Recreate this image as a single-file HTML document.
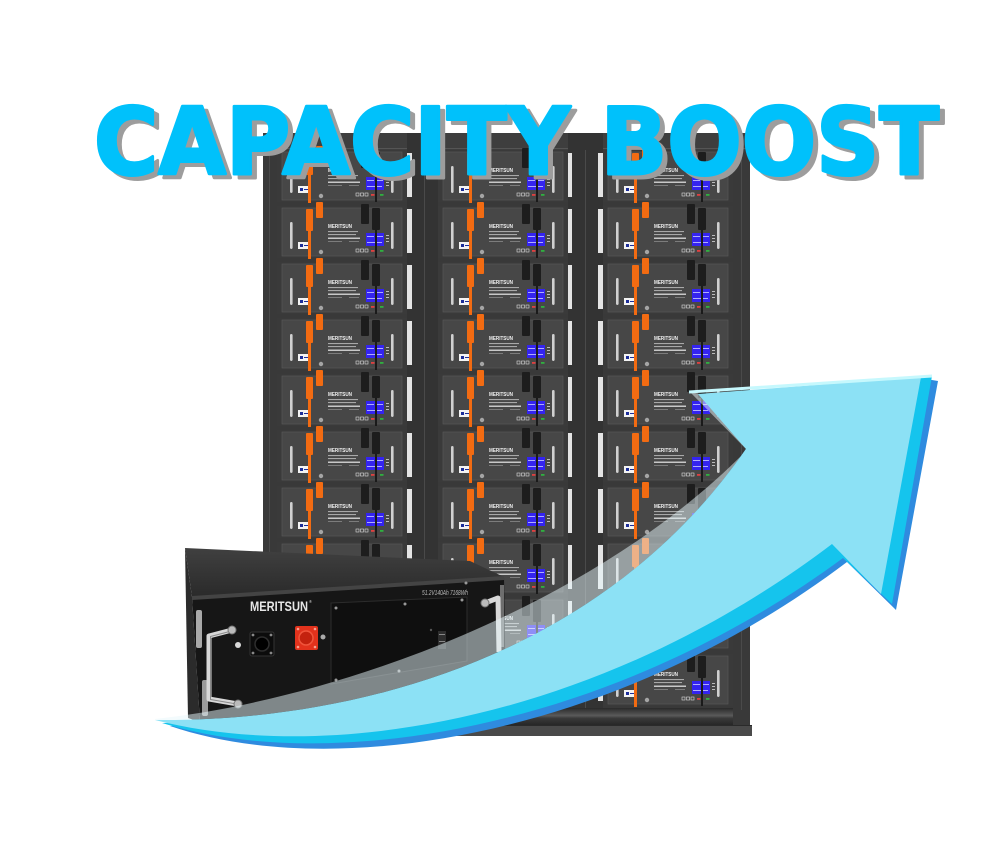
<!DOCTYPE html>
<html>
<head>
<meta charset="utf-8">
<style>
html,body{margin:0;padding:0;background:#fff;}
body{width:1000px;height:857px;overflow:hidden;}
svg{display:block;}
</style>
</head>
<body>
<svg width="1000" height="857" viewBox="0 0 1000 857" xmlns="http://www.w3.org/2000/svg">
<defs>
  <linearGradient id="tf" x1="0" y1="0" x2="0" y2="1">
    <stop offset="0" stop-color="#404040"/>
    <stop offset="1" stop-color="#2a2a2a"/>
  </linearGradient>
  <linearGradient id="bar" x1="0" y1="0" x2="0" y2="1">
    <stop offset="0" stop-color="#2a2a2a"/>
    <stop offset="0.45" stop-color="#5a5a5a"/>
    <stop offset="0.6" stop-color="#3a3a3a"/>
    <stop offset="1" stop-color="#262626"/>
  </linearGradient>
  <g id="m">
    <rect width="130" height="52" fill="#3a3a3a"/>
    <rect x="5" y="2" width="120" height="48" fill="#474747" stroke="#5a5a5a" stroke-width="0.6"/>
    <rect x="13" y="16" width="2.6" height="27" rx="1.2" fill="#d0d0d0"/>
    <rect x="114" y="16" width="2.6" height="27" rx="1.2" fill="#d0d0d0"/>
    <rect x="21" y="36" width="12" height="7" fill="#f3f3f3"/>
    <rect x="23" y="38" width="3" height="3" fill="#1c2d99"/>
    <rect x="27" y="39" width="4" height="1" fill="#1c2d99"/>
    <rect x="51" y="25" width="30" height="1.1" fill="#a8a8a8"/>
    <rect x="51" y="28" width="28" height="1.1" fill="#a8a8a8"/>
    <rect x="51" y="31.5" width="32" height="1.5" fill="#c8c8c8"/>
    <rect x="51" y="35" width="14" height="0.8" fill="#8a8a8a"/>
    <rect x="72" y="35" width="10" height="0.8" fill="#8a8a8a"/>
    <rect x="89" y="27" width="9" height="13" fill="#3424f0"/>
    <rect x="99" y="27" width="8" height="13" fill="#3424f0"/>
    <rect x="90" y="30" width="7" height="0.8" fill="#cfd0ff"/>
    <rect x="100" y="30" width="6" height="0.8" fill="#cfd0ff"/>
    <rect x="90" y="36" width="15" height="0.8" fill="#cfd0ff"/>
    <rect x="109" y="29" width="3" height="1" fill="#bbb"/>
    <rect x="109" y="32" width="3" height="1" fill="#bbb"/>
    <rect x="109" y="35" width="3" height="1" fill="#bbb"/>
    <circle cx="44" cy="46" r="2.2" fill="#a5a5a5"/>
    <rect x="79" y="43" width="3" height="3" fill="none" stroke="#ddd" stroke-width="0.6"/>
    <rect x="83.5" y="43" width="3" height="3" fill="none" stroke="#ddd" stroke-width="0.6"/>
    <rect x="88" y="43" width="3" height="3" fill="none" stroke="#ddd" stroke-width="0.6"/>
    <rect x="94" y="44" width="3.5" height="1.8" fill="#e04040"/>
    <rect x="103" y="44" width="3.5" height="1.8" fill="#30b040"/>
    <rect x="84" y="-2" width="8" height="20" rx="1" fill="#1d1d1d"/>
    <rect x="95" y="2" width="8" height="22" rx="1" fill="#1d1d1d"/>
    <rect x="98" y="24" width="2" height="28" fill="#1a1a1a"/>
    <rect x="29" y="3" width="7" height="22" rx="1" fill="#f26b12"/>
    <rect x="31" y="25" width="3" height="28" fill="#f26b12"/>
    <rect x="39" y="-4" width="7" height="16" rx="1" fill="#f26b12"/>
  </g>
</defs>

<rect width="1000" height="857" fill="#ffffff"/>

<!-- RACK -->
<rect x="263" y="133" width="487" height="594" fill="#393939"/>
<rect x="263" y="133" width="487" height="17" fill="#3e3e3e"/>
<rect x="263" y="148" width="487" height="1" fill="#555"/>
<rect x="407" y="133" width="31" height="592" fill="#333"/>
<rect x="568" y="133" width="35" height="592" fill="#333"/>
<rect x="424" y="150" width="1" height="560" fill="#4a4a4a"/>
<rect x="585" y="150" width="1" height="560" fill="#4a4a4a"/>
<rect x="741" y="150" width="1" height="560" fill="#4a4a4a"/>
<rect x="269" y="150" width="1" height="560" fill="#4a4a4a"/>
<rect x="277" y="708" width="456" height="17" fill="url(#bar)"/>
<rect x="261" y="725" width="491" height="11" fill="#4a4a4a"/>
<rect x="261" y="725" width="491" height="1" fill="#2a2a2a"/>

<!-- white strips -->
<g fill="#e4e4e4">
  <rect x="407" y="153" width="5" height="44"/><rect x="567" y="153" width="5" height="44"/><rect x="598" y="153" width="5" height="44"/>
  <rect x="407" y="209" width="5" height="44"/><rect x="567" y="209" width="5" height="44"/><rect x="598" y="209" width="5" height="44"/>
  <rect x="407" y="265" width="5" height="44"/><rect x="567" y="265" width="5" height="44"/><rect x="598" y="265" width="5" height="44"/>
  <rect x="407" y="321" width="5" height="44"/><rect x="567" y="321" width="5" height="44"/><rect x="598" y="321" width="5" height="44"/>
  <rect x="407" y="377" width="5" height="44"/><rect x="567" y="377" width="5" height="44"/><rect x="598" y="377" width="5" height="44"/>
  <rect x="407" y="433" width="5" height="44"/><rect x="567" y="433" width="5" height="44"/><rect x="598" y="433" width="5" height="44"/>
  <rect x="407" y="489" width="5" height="44"/><rect x="567" y="489" width="5" height="44"/><rect x="598" y="489" width="5" height="44"/>
  <rect x="407" y="545" width="5" height="44"/><rect x="567" y="545" width="5" height="44"/><rect x="598" y="545" width="5" height="44"/>
  <rect x="407" y="601" width="5" height="44"/><rect x="567" y="601" width="5" height="44"/><rect x="598" y="601" width="5" height="44"/>
  <rect x="407" y="657" width="5" height="44"/><rect x="567" y="657" width="5" height="44"/><rect x="598" y="657" width="5" height="44"/>
</g>

<!-- modules -->
<use href="#m" x="277" y="150"/><use href="#m" x="438" y="150"/><use href="#m" x="603" y="150"/>
<use href="#m" x="277" y="206"/><use href="#m" x="438" y="206"/><use href="#m" x="603" y="206"/>
<use href="#m" x="277" y="262"/><use href="#m" x="438" y="262"/><use href="#m" x="603" y="262"/>
<use href="#m" x="277" y="318"/><use href="#m" x="438" y="318"/><use href="#m" x="603" y="318"/>
<use href="#m" x="277" y="374"/><use href="#m" x="438" y="374"/><use href="#m" x="603" y="374"/>
<use href="#m" x="277" y="430"/><use href="#m" x="438" y="430"/><use href="#m" x="603" y="430"/>
<use href="#m" x="277" y="486"/><use href="#m" x="438" y="486"/><use href="#m" x="603" y="486"/>
<use href="#m" x="277" y="542"/><use href="#m" x="438" y="542"/><use href="#m" x="603" y="542"/>
<use href="#m" x="277" y="598"/><use href="#m" x="438" y="598"/><use href="#m" x="603" y="598"/>
<use href="#m" x="277" y="654"/><use href="#m" x="438" y="654"/><use href="#m" x="603" y="654"/>

<g font-family="'Liberation Sans', sans-serif" font-weight="bold" font-size="5.5" fill="#f0f0f0">
  <text x="328" y="172" textLength="24" lengthAdjust="spacingAndGlyphs">MERITSUN</text>
  <text x="489" y="172" textLength="24" lengthAdjust="spacingAndGlyphs">MERITSUN</text>
  <text x="654" y="172" textLength="24" lengthAdjust="spacingAndGlyphs">MERITSUN</text>
  <text x="328" y="228" textLength="24" lengthAdjust="spacingAndGlyphs">MERITSUN</text>
  <text x="489" y="228" textLength="24" lengthAdjust="spacingAndGlyphs">MERITSUN</text>
  <text x="654" y="228" textLength="24" lengthAdjust="spacingAndGlyphs">MERITSUN</text>
  <text x="328" y="284" textLength="24" lengthAdjust="spacingAndGlyphs">MERITSUN</text>
  <text x="489" y="284" textLength="24" lengthAdjust="spacingAndGlyphs">MERITSUN</text>
  <text x="654" y="284" textLength="24" lengthAdjust="spacingAndGlyphs">MERITSUN</text>
  <text x="328" y="340" textLength="24" lengthAdjust="spacingAndGlyphs">MERITSUN</text>
  <text x="489" y="340" textLength="24" lengthAdjust="spacingAndGlyphs">MERITSUN</text>
  <text x="654" y="340" textLength="24" lengthAdjust="spacingAndGlyphs">MERITSUN</text>
  <text x="328" y="396" textLength="24" lengthAdjust="spacingAndGlyphs">MERITSUN</text>
  <text x="489" y="396" textLength="24" lengthAdjust="spacingAndGlyphs">MERITSUN</text>
  <text x="654" y="396" textLength="24" lengthAdjust="spacingAndGlyphs">MERITSUN</text>
  <text x="328" y="452" textLength="24" lengthAdjust="spacingAndGlyphs">MERITSUN</text>
  <text x="489" y="452" textLength="24" lengthAdjust="spacingAndGlyphs">MERITSUN</text>
  <text x="654" y="452" textLength="24" lengthAdjust="spacingAndGlyphs">MERITSUN</text>
  <text x="328" y="508" textLength="24" lengthAdjust="spacingAndGlyphs">MERITSUN</text>
  <text x="489" y="508" textLength="24" lengthAdjust="spacingAndGlyphs">MERITSUN</text>
  <text x="654" y="508" textLength="24" lengthAdjust="spacingAndGlyphs">MERITSUN</text>
  <text x="328" y="564" textLength="24" lengthAdjust="spacingAndGlyphs">MERITSUN</text>
  <text x="489" y="564" textLength="24" lengthAdjust="spacingAndGlyphs">MERITSUN</text>
  <text x="654" y="564" textLength="24" lengthAdjust="spacingAndGlyphs">MERITSUN</text>
  <text x="328" y="620" textLength="24" lengthAdjust="spacingAndGlyphs">MERITSUN</text>
  <text x="489" y="620" textLength="24" lengthAdjust="spacingAndGlyphs">MERITSUN</text>
  <text x="654" y="620" textLength="24" lengthAdjust="spacingAndGlyphs">MERITSUN</text>
  <text x="328" y="676" textLength="24" lengthAdjust="spacingAndGlyphs">MERITSUN</text>
  <text x="489" y="676" textLength="24" lengthAdjust="spacingAndGlyphs">MERITSUN</text>
  <text x="654" y="676" textLength="24" lengthAdjust="spacingAndGlyphs">MERITSUN</text>
</g>

<!-- BOX UNIT -->
<polygon points="185,548 470,561 504,577 192,597" fill="url(#tf)"/>
<polygon points="185,548 192,597 200,722 188,718" fill="#2b2b2b"/>
<polygon points="192,597 504,577 506,706 200,722" fill="#161616"/>
<polygon points="192,596 504,576 504,580 192,600" fill="#444"/>
<polygon points="331,603 467,597 467,661 331,684" fill="#0f0f0f" stroke="#2c2c2c" stroke-width="1"/>
<rect x="196" y="610" width="6" height="38" rx="2" fill="#a9a9a9"/>
<rect x="202" y="680" width="6" height="36" rx="2" fill="#9a9a9a"/>
<rect x="500" y="585" width="4" height="62" fill="#6e6e6e"/>
<text x="250" y="611" font-family="'Liberation Sans', sans-serif" font-weight="bold" font-size="14" fill="#e6e6e6" textLength="58" lengthAdjust="spacingAndGlyphs">MERITSUN</text>
<text x="309" y="603" font-family="'Liberation Sans', sans-serif" font-size="4" fill="#ddd">®</text>
<text x="422" y="595" font-family="'Liberation Sans', sans-serif" font-style="italic" font-size="7" fill="#bdbdbd" textLength="46" lengthAdjust="spacingAndGlyphs">51.2V140Ah 7168Wh</text>
<!-- connectors -->
<rect x="250" y="632" width="24" height="24" rx="2" fill="#0c0c0c" stroke="#333" stroke-width="1"/>
<circle cx="262" cy="644" r="7" fill="#000" stroke="#2e2e2e" stroke-width="1.5"/>
<circle cx="253" cy="635" r="1.4" fill="#888"/><circle cx="271" cy="635" r="1.4" fill="#888"/>
<circle cx="253" cy="653" r="1.4" fill="#888"/><circle cx="271" cy="653" r="1.4" fill="#888"/>
<rect x="295" y="626" width="23" height="24" rx="2" fill="#e2321c"/>
<circle cx="306" cy="638" r="7" fill="#c4220e" stroke="#f0553c" stroke-width="1.5"/>
<circle cx="298" cy="629" r="1.3" fill="#f5a090"/><circle cx="315" cy="629" r="1.3" fill="#f5a090"/>
<circle cx="298" cy="647" r="1.3" fill="#f5a090"/><circle cx="315" cy="647" r="1.3" fill="#f5a090"/>
<circle cx="238" cy="645" r="3" fill="#d8d8d8"/>
<circle cx="323" cy="637" r="2.5" fill="#aaa"/>
<circle cx="336" cy="608" r="1.5" fill="#999"/><circle cx="405" cy="604" r="1.5" fill="#999"/>
<circle cx="462" cy="600" r="1.5" fill="#999"/><circle cx="336" cy="680" r="1.5" fill="#999"/>
<circle cx="399" cy="671" r="1.5" fill="#999"/><circle cx="466" cy="583" r="1.5" fill="#999"/>
<rect x="438" y="631" width="8" height="18" fill="#2e2e2e"/>
<rect x="439" y="634" width="6" height="1" fill="#888"/><rect x="439" y="641" width="6" height="1" fill="#888"/>
<circle cx="431" cy="630" r="1.2" fill="#555"/>
<!-- handles -->
<path d="M232,630 L209,636 L209,699 L238,704" fill="none" stroke="#d8d8d8" stroke-width="5" stroke-linejoin="round"/>
<path d="M232,630 L209,636 L209,699 L238,704" fill="none" stroke="#8a8a8a" stroke-width="1" stroke-linejoin="round" transform="translate(1.5,0.5)"/>
<circle cx="232" cy="630" r="4" fill="#bbb" stroke="#777" stroke-width="1"/>
<circle cx="238" cy="704" r="4" fill="#bbb" stroke="#777" stroke-width="1"/>
<path d="M485,603 L498,598 L499,652" fill="none" stroke="#d8d8d8" stroke-width="5" stroke-linejoin="round"/>
<circle cx="485" cy="603" r="4" fill="#bbb" stroke="#777" stroke-width="1"/>

<!-- ARROW -->
<path d="M170,726 C335,782 615,737 847,562 L896,610 L938,381 L920,378 L746,449 C600,660 350,722 170,726 Z" fill="#2f8bdf"/>
<path d="M162,723 C330,775 610,730 843,558 L892,604 L932,376 L920,378 L746,449 C600,660 350,722 162,723 Z" fill="#15c4ed"/>
<path d="M155,719 C330,700 590,610 747,450 L690,392 L700,394 L746,449 C600,660 350,722 155,720 Z" fill="rgba(232,247,251,0.5)"/>
<path d="M155,720 C350,722 600,660 746,449 L698,394 L921,377 L881,594 L832,544 C600,720 330,765 155,720 Z" fill="#8ce1f5"/>
<line x1="689" y1="392" x2="932" y2="376" stroke="#c6f8fd" stroke-width="3"/>

<!-- TITLE -->
<g font-family="'DejaVu Sans', 'Liberation Sans', sans-serif" font-weight="bold" font-size="93">
  <text x="99" y="178" textLength="845" lengthAdjust="spacingAndGlyphs" fill="#9d9d9d" stroke="#9d9d9d" stroke-width="3" stroke-linejoin="round">CAPACITY BOOST</text>
  <text x="94" y="174" textLength="845" lengthAdjust="spacingAndGlyphs" fill="#00c1fb" stroke="#00c1fb" stroke-width="3" stroke-linejoin="round">CAPACITY BOOST</text>
</g>
</svg>
</body>
</html>
